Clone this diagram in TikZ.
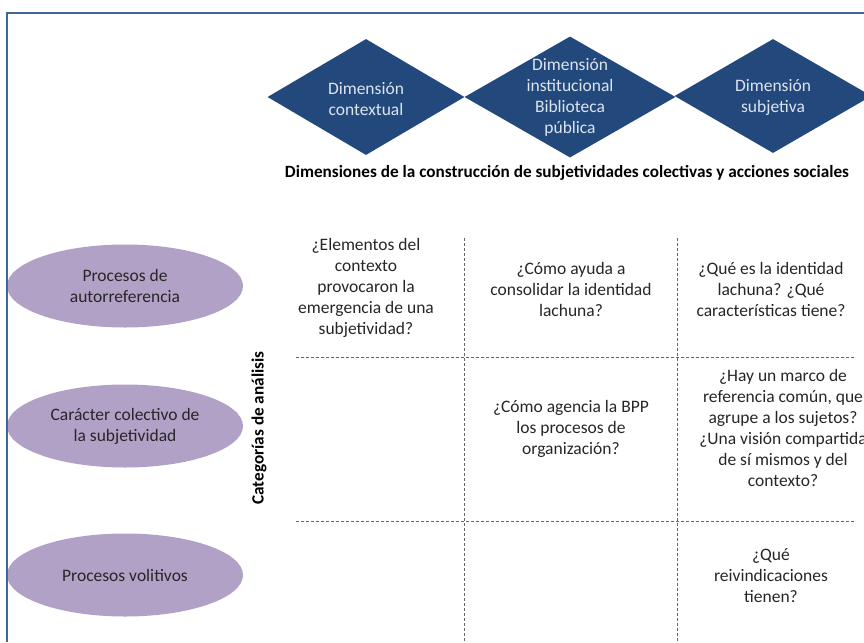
\documentclass[tikz,border=0pt]{standalone}
\usepackage{fontspec}
\setmainfont{Carlito}
\usepackage{tikz}
\usetikzlibrary{shapes,positioning}
\definecolor{dimblue}{HTML}{23497C}
\definecolor{dimtext}{HTML}{DCE4EE}
\definecolor{catlila}{HTML}{B2A1C7}
\definecolor{frameblue}{HTML}{41679A}
\tikzstyle{dimshape}=[diamond,fill=dimblue,inner sep=0pt]
\tikzstyle{dimlabel}=[align=center,text=dimtext,font=\fontsize{17.5}{21}\selectfont]
\tikzstyle{catshape}=[ellipse,fill=catlila,minimum width=236pt,minimum height=83pt,inner sep=0pt]
\tikzstyle{plainlabel}=[align=center,text=black!85,font=\fontsize{17.5}{21}\selectfont]
\tikzstyle{boldlabel}=[text=black,font=\bfseries\fontsize{17.2}{20}\selectfont]
\tikzstyle{gridline}=[draw=black!60,line width=0.8pt,dash pattern=on 3pt off 2pt]
\tikzstyle{frameline}=[draw=frameblue,line width=2pt]

\begin{document}
\begin{tikzpicture}[x=1pt,y=-1pt]
    \useasboundingbox (0,0) rectangle (864,642);
    \clip (0,0) rectangle (864,642);

    % dimensions (diamonds)
    \foreach \pos/\name/\w/\h in {{(366,97)/D1/197/116}, {(570,97)/D2/211/121}, {(773,96)/D3/197/114}}
        \node[dimshape,minimum width=\w pt,minimum height=\h pt] (\name) at \pos {};
    \node[dimlabel] (D1t) at ([yshift=-2pt]D1) {Dimensión\\contextual};
    \node[dimlabel] (D2t) at (D2) {Dimensión\\institucional\\Biblioteca\\pública};
    \node[dimlabel] (D3t) at ([yshift=-1pt]D3) {Dimensión\\subjetiva};
    \node[boldlabel] (title) at (567,173) {Dimensiones de la construcción de subjetividades colectivas y acciones sociales};

    % categories (ellipses)
    \foreach \pos/\name in {{(125,286)/C1}, {(125,426)/C2}, {(125,575)/C3}}
        \node[catshape] (\name) at \pos {};
    \node[plainlabel] (C1t) at (C1) {Procesos de\\autorreferencia};
    \node[plainlabel] (C2t) at (C2) {Carácter colectivo de\\la subjetividad};
    \node[plainlabel] (C3t) at (C3) {Procesos volitivos};
    \node[boldlabel,rotate=90] (cat) at (259,428) {Categorías de análisis};

    % dashed grid
    \coordinate (V1a) at (464,238); \coordinate (V1b) at (464,642);
    \coordinate (V2a) at (677,238); \coordinate (V2b) at (677,642);
    \coordinate (H1a) at (296,357); \coordinate (H1b) at (855,357);
    \coordinate (H2a) at (296,521); \coordinate (H2b) at (855,521);
    \foreach \source/\dest in {V1a/V1b, V2a/V2b, H1a/H1b, H2a/H2b}
        \path[gridline] (\source) -- (\dest);

    % questions
    \node[plainlabel] (q11) at (366,288) {¿Elementos del\\contexto\\provocaron la\\emergencia de una\\subjetividad?};
    \node[plainlabel] (q12) at (571,289) {¿Cómo ayuda a\\consolidar la identidad\\lachuna?};
    \node[plainlabel] (q13) at (771,289) {¿Qué es la identidad\\lachuna? ¿Qué\\características tiene?};
    \node[plainlabel] (q22) at (571,429) {¿Cómo agencia la BPP\\los procesos de\\organización?};
    \node[plainlabel] (q23) at (783,428) {¿Hay un marco de\\referencia común, que\\agrupe a los sujetos?\\¿Una visión compartida\\de sí mismos y del\\contexto?};
    \node[plainlabel] (q33) at (771,576) {¿Qué\\reivindicaciones\\tienen?};

    % frame
    \draw[frameline] (7,642) -- (7,13) -- (870,13);
\end{tikzpicture}
\end{document}
